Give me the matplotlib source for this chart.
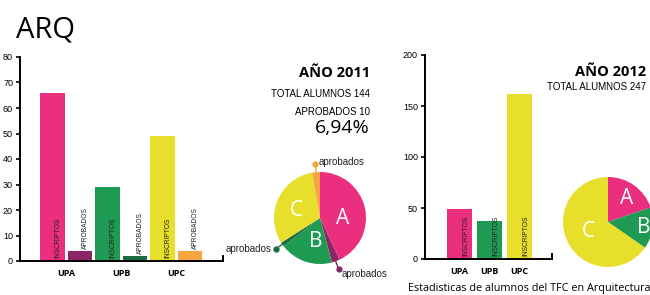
import matplotlib
matplotlib.use('Agg')
import matplotlib.pyplot as plt
from matplotlib import font_manager
import numpy as np

# DATA
universidades = ['UPA', 'UPB', 'UPC']
inscriptos_2011 = [66, 29, 49]
aprobados_2011 = [4, 2, 4]
inscriptos_2012 = [49, 37, 162]
letras = ['A', 'B', 'C']

col_insc = ['#ea2f7f', '#1f9a52', '#e8de2c']
col_aprob = ['#8c2566', '#1b6c3e', '#f6a540']

names = {f.name for f in font_manager.fontManager.ttflist}
NARROW = 'Liberation Sans Narrow' if 'Liberation Sans Narrow' in names else 'Liberation Sans'
plt.rcParams['font.family'] = ['Open Sans', 'DejaVu Sans']

W, H = 650, 295
fig = plt.figure(figsize=(W / 100, H / 100), dpi=100)


def px_axes(left, top, right, bottom):
    return fig.add_axes([left / W, 1 - bottom / H, (right - left) / W, (bottom - top) / H])


def style_bar_axes(ax, ymax, step):
    ax.spines['top'].set_visible(False)
    for s in ['left', 'bottom', 'right']:
        ax.spines[s].set_linewidth(1.4)
    ax.spines['right'].set_bounds(0, ymax * 0.025)
    ax.set_ylim(0, ymax)
    ax.set_yticks(range(0, ymax + 1, step))
    ax.tick_params(axis='y', length=3, width=1.2, pad=2, labelsize=6.5)
    ax.tick_params(axis='x', length=0, pad=6)
    for lab in ax.get_yticklabels():
        lab.set_fontfamily(NARROW)
    ax.set_xticks(range(3))
    ax.set_xticklabels(universidades, fontsize=6.5, fontweight='bold')


# ---- 2011 bars
ax1 = px_axes(20, 57, 223, 261)
w = 0.45
for i in range(3):
    ax1.bar(i - 0.25, inscriptos_2011[i], w, color=col_insc[i])
    ax1.bar(i + 0.25, aprobados_2011[i], w, color=col_aprob[i])
    ax1.text(i - 0.25 + w / 2 - 0.06, 1, 'INSCRIPTOS', rotation=90, ha='right', va='bottom',
             fontsize=4.8, family=NARROW, color='#222222')
    ax1.text(i + 0.25 + w / 2 - 0.06, aprobados_2011[i] + 0.8, 'APROBADOS', rotation=90,
             ha='right', va='bottom', fontsize=4.8, family=NARROW, color='#222222')
ax1.set_xlim(-0.84, 2.85)
style_bar_axes(ax1, 80, 10)

# ---- 2012 bars
ax2 = px_axes(425, 55, 552, 259)
w2 = 0.83
for i in range(3):
    ax2.bar(i, inscriptos_2012[i], w2, color=col_insc[i])
    ax2.text(i + w2 / 2 - 0.1, 3, 'INSCRIPTOS', rotation=90, ha='right', va='bottom',
             fontsize=4.8, family=NARROW, color='#222222')
ax2.set_xlim(-1.15, 3.08)
style_bar_axes(ax2, 200, 50)

# ---- 2011 pie
cx, cy, r = 320, 218, 46
axp1 = px_axes(cx - r, cy - r, cx + r, cy + r)
vals, cols = [], []
for i in range(3):
    vals += [inscriptos_2011[i] - aprobados_2011[i], aprobados_2011[i]]
    cols += [col_insc[i], col_aprob[i]]
wedges, _ = axp1.pie(vals, colors=cols, startangle=90, counterclock=False, radius=1)
axp1.set_xlim(-1, 1)
axp1.set_ylim(-1, 1)
axp1.set_aspect('equal')
axp1.axis('off')
for (x, y), t in zip([(0.5, 0.0), (-0.09, -0.52), (-0.52, 0.17)], letras):
    axp1.text(x, y, t, color='white', fontsize=15, ha='center', va='center')

offsets = [(0.06, -0.1, 'left'), (-0.08, 0.0, 'right'), (0.08, 0.05, 'left')]
# aprobados wedges: indexes 1, 3, 5
for k, idx in enumerate([1, 3, 5]):
    wd = wedges[idx]
    ang = np.deg2rad((wd.theta1 + wd.theta2) / 2)
    x0, y0 = 0.97 * np.cos(ang), 0.97 * np.sin(ang)
    x1, y1 = 1.18 * np.cos(ang), 1.18 * np.sin(ang)
    axp1.plot([x0, x1], [y0, y1], color=cols[idx], lw=1, clip_on=False)
    axp1.plot([x1], [y1], 'o', color=cols[idx], ms=3.5, clip_on=False)
    dx, dy, ha = offsets[k]
    axp1.text(x1 + dx, y1 + dy, 'aprobados', ha=ha, va='center', fontsize=7,
              family=NARROW, color='#222222', clip_on=False)

# ---- 2012 pie
cx, cy, r = 608, 222, 45
axp2 = px_axes(cx - r, cy - r, cx + r, cy + r)
axp2.pie(inscriptos_2012, colors=col_insc, startangle=90, counterclock=False, radius=1)
axp2.set_xlim(-1, 1)
axp2.set_ylim(-1, 1)
axp2.set_aspect('equal')
axp2.axis('off')
for (x, y), t in zip([(0.42, 0.53), (0.8, -0.13), (-0.44, -0.22)], letras):
    axp2.text(x, y, t, color='white', fontsize=15, ha='center', va='center', clip_on=False)

# ---- texts
fig.text(16 / W, 1 - 30 / H, 'ARQ', fontsize=21, va='center', ha='left')
fig.text(370 / W, 1 - 73 / H, 'AÑO 2011', fontsize=10.5, fontweight='bold', ha='right', va='center')
fig.text(370 / W, 1 - 94 / H, 'TOTAL ALUMNOS 144', fontsize=7, family=NARROW, ha='right', va='center')
fig.text(370 / W, 1 - 112 / H, 'APROBADOS 10', fontsize=7, family=NARROW, ha='right', va='center')
fig.text(370 / W, 1 - 128 / H, '6,94%', fontsize=14, ha='right', va='center')
fig.text(646 / W, 1 - 72 / H, 'AÑO 2012', fontsize=10.5, fontweight='bold', ha='right', va='center')
fig.text(646 / W, 1 - 87 / H, 'TOTAL ALUMNOS 247', fontsize=7, family=NARROW, ha='right', va='center')
fig.text(408 / W, 1 - 288 / H, 'Estadisticas de alumnos del TFC en Arquitectura', fontsize=7.8,
         ha='left', va='center')

fig.savefig('out.png', dpi=100)
